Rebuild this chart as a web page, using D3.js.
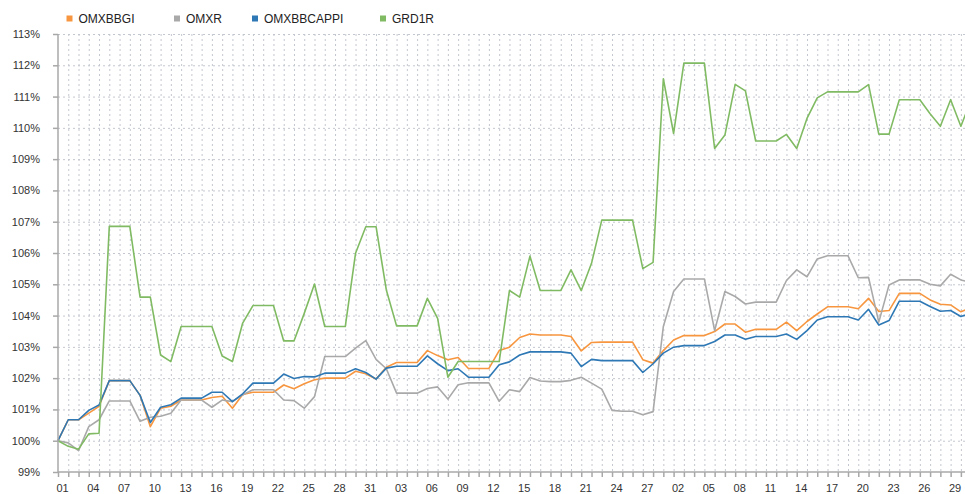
<html>
<head>
<style>
  body { margin: 0; background: #fff; }
  svg text { font-family: "Liberation Sans", Arial, sans-serif; }
  .grid line { stroke: #c3c7cf; stroke-width: 1; stroke-dasharray: 2,3; }
  .axis path, .axis line { stroke: #a8a8a8; stroke-width: 1.5; }
  .axis text { fill: #333; font-size: 11px; }
</style>
</head>
<body>
<svg id="chart" width="965" height="494"></svg>
<script src="https://cdn.jsdelivr.net/npm/d3@7"></script>
<script>
// day of month for each daily point (Jan 1 .. Mar 31)
let days = ["01","02","03","04","05","06","07","08","09","10","11","12","13","14","15","16","17","18","19","20","21","22","23","24","25","26","27","28","29","30","31",
  "01","02","03","04","05","06","07","08","09","10","11","12","13","14","15","16","17","18","19","20","21","22","23","24","25","26","27","28",
  "01","02","03","04","05","06","07","08","09","10","11","12","13","14","15","16","17","18","19","20","21","22","23","24","25","26","27","28","29","30","31"]

let yTicks = [99, 100, 101, 102, 103, 104, 105, 106, 107, 108, 109, 110, 111, 112, 113]

let seriesNames = ["OMXBBGI", "OMXR", "OMXBBCAPPI", "GRD1R"]
let seriesColors = ["#f7963f", "#a9a9a9", "#2e78b5", "#80bb63"]

let omxbbgi = [100.0,100.67,100.67,100.88,101.1,101.92,101.92,101.92,101.45,100.45,101.04,101.1,101.3,101.3,101.3,101.38,101.42,101.04,101.48,101.55,101.55,101.55,101.78,101.66,101.82,101.95,102.0,102.0,102.0,102.22,102.14,
  101.97,102.35,102.5,102.5,102.5,102.88,102.72,102.59,102.66,102.31,102.31,102.31,102.88,102.99,103.3,103.41,103.38,103.38,103.38,103.33,102.87,103.14,103.15,103.15,103.15,103.15,102.59,102.48,
  102.88,103.22,103.36,103.36,103.36,103.49,103.73,103.73,103.47,103.56,103.56,103.56,103.79,103.52,103.81,104.05,104.28,104.28,104.28,104.22,104.55,104.13,104.16,104.71,104.71,104.71,104.5,104.36,104.34,104.12,104.25]

let omxr = [100.0,99.93,99.68,100.45,100.67,101.27,101.27,101.27,100.62,100.75,100.78,100.88,101.3,101.3,101.3,101.07,101.3,101.25,101.47,101.63,101.63,101.63,101.3,101.28,101.04,101.41,102.69,102.69,102.69,102.96,103.2,
  102.6,102.3,101.52,101.52,101.52,101.67,101.72,101.33,101.79,101.85,101.85,101.85,101.26,101.63,101.57,102.02,101.91,101.89,101.89,101.93,102.03,101.84,101.65,100.97,100.94,100.94,100.83,100.93,
  103.65,104.77,105.17,105.17,105.17,103.52,104.77,104.61,104.37,104.43,104.43,104.43,105.12,105.46,105.24,105.81,105.91,105.91,105.91,105.21,105.22,103.79,104.98,105.14,105.14,105.14,105.0,104.95,105.32,105.14,105.05]

let omxbbcappi = [100.0,100.67,100.67,100.97,101.14,101.92,101.92,101.92,101.45,100.58,101.07,101.15,101.36,101.36,101.36,101.55,101.55,101.25,101.5,101.84,101.84,101.84,102.13,101.99,102.05,102.04,102.16,102.16,102.16,102.3,102.18,
  101.97,102.32,102.38,102.38,102.38,102.71,102.46,102.24,102.3,102.03,102.03,102.03,102.43,102.52,102.74,102.84,102.84,102.84,102.84,102.8,102.37,102.6,102.56,102.56,102.56,102.56,102.18,102.46,
  102.8,102.99,103.04,103.04,103.04,103.17,103.38,103.38,103.24,103.33,103.33,103.33,103.41,103.24,103.52,103.86,103.96,103.96,103.96,103.86,104.2,103.7,103.84,104.46,104.46,104.46,104.29,104.14,104.16,103.97,104.08]

let grd1r = [100.0,99.82,99.73,100.22,100.24,106.85,106.85,106.85,104.59,104.59,102.74,102.53,103.65,103.65,103.65,103.65,102.71,102.53,103.76,104.32,104.32,104.32,103.19,103.19,104.07,105.01,103.65,103.65,103.65,105.99,106.84,
  106.84,104.82,103.67,103.67,103.67,104.55,103.91,102.03,102.53,102.53,102.53,102.53,102.53,104.8,104.59,105.9,104.8,104.8,104.8,105.46,104.8,105.67,107.05,107.05,107.05,107.05,105.5,105.7,
  111.57,109.82,112.07,112.07,112.07,109.34,109.77,111.39,111.18,109.58,109.58,109.58,109.79,109.34,110.3,110.96,111.15,111.15,111.15,111.15,111.38,109.8,109.8,110.9,110.9,110.9,110.45,110.05,110.9,110.05,110.9]

let allSeries = [omxbbgi, omxr, omxbbcappi, grd1r]

let svg = d3.select("#chart")
let plotLeft = 58, plotTop = 34, plotBottom = 472, step = 10.26

let xScale = d3.scaleLinear().domain([0, days.length - 1]).range([plotLeft, plotLeft + (days.length - 1) * step])
let yScale = d3.scaleLinear().domain([99, 113]).range([plotBottom, plotTop])

// grid
let grid = svg.append("g").attr("class", "grid")
grid.selectAll("line.h")
  .data(yTicks.slice(1))
  .enter().append("line")
  .attr("x1", plotLeft).attr("x2", 965)
  .attr("y1", d => yScale(d) + 0.5).attr("y2", d => yScale(d) + 0.5)
grid.selectAll("line.v")
  .data(d3.range(1, days.length))
  .enter().append("line")
  .attr("x1", d => xScale(d) + 0.5).attr("x2", d => xScale(d) + 0.5)
  .attr("y1", plotTop).attr("y2", plotBottom)

// lines
let line = d3.line()
  .x((d, i) => xScale(i))
  .y(d => yScale(d))

svg.append("g").selectAll("path")
  .data(allSeries)
  .enter().append("path")
  .attr("d", d => line(d))
  .attr("fill", "none")
  .attr("stroke", (d, i) => seriesColors[i])
  .attr("stroke-width", 1.6)
  .attr("stroke-linejoin", "round")

// y axis
let yAxis = d3.axisLeft(yScale)
  .tickValues(yTicks)
  .tickSize(5)
  .tickPadding(13)
  .tickFormat(d => d + "%")
svg.append("g")
  .attr("class", "axis")
  .attr("transform", `translate(${plotLeft},0)`)
  .call(yAxis)
  .call(g => g.select(".domain").attr("d", `M0,${plotTop}V${plotBottom}`))

// x axis
let xAxis = d3.axisBottom(xScale)
  .tickValues(d3.range(0, days.length))
  .tickSize(5)
  .tickFormat(() => "")
let xg = svg.append("g")
  .attr("class", "axis")
  .attr("transform", `translate(0,${plotBottom})`)
  .call(xAxis)
xg.select(".domain").attr("d", `M${plotLeft},0H965`)

xg.selectAll("text.lbl")
  .data(days.map((d, i) => [d, i]).filter(d => d[1] % 3 === 0))
  .enter().append("text")
  .attr("class", "lbl")
  .attr("x", d => xScale(d[1]) + 4.5)
  .attr("y", 20)
  .attr("text-anchor", "middle")
  .text(d => d[0])

// legend
let legendX = [66.5, 174, 252, 380]
let legend = svg.append("g").selectAll("g")
  .data(seriesNames)
  .enter().append("g")
  .attr("transform", (d, i) => `translate(${legendX[i]},15.5)`)
legend.append("rect")
  .attr("width", 6).attr("height", 6)
  .attr("fill", (d, i) => seriesColors[i])
legend.append("text")
  .attr("x", 12).attr("y", 7)
  .attr("font-size", 12)
  .attr("fill", "#222")
  .text(d => d)
</script>
</body>
</html>
